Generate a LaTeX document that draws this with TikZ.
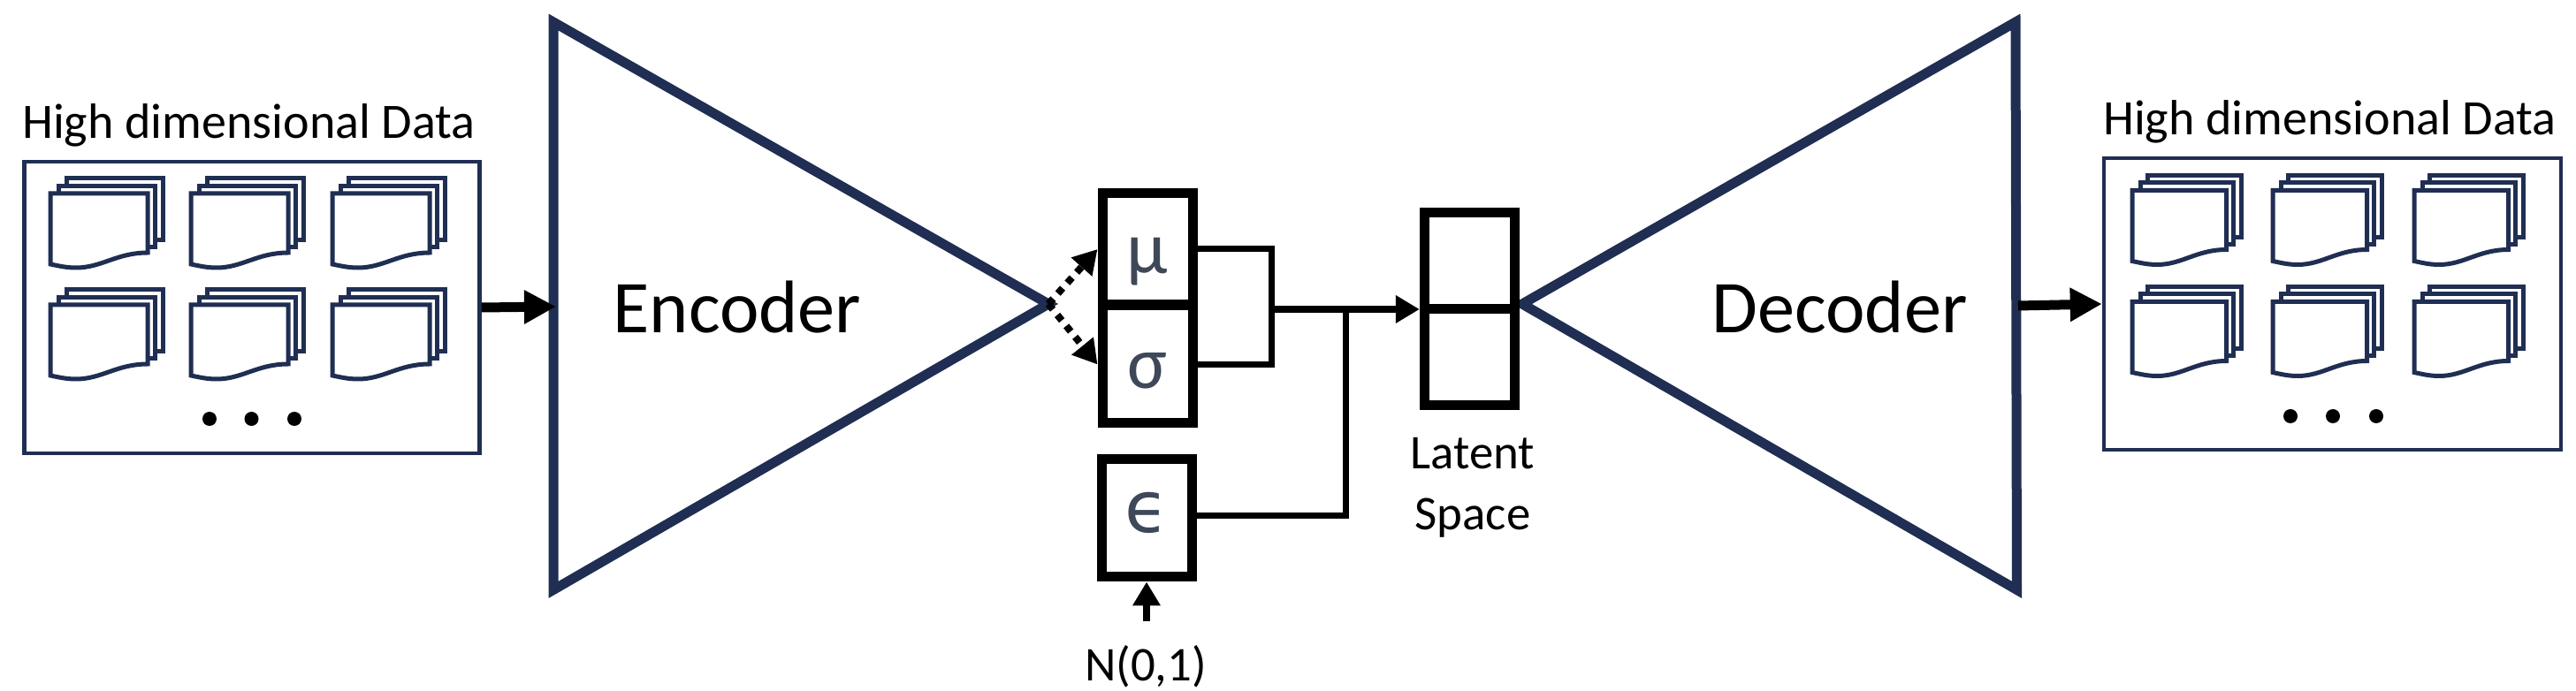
\documentclass[tikz,border=0pt]{standalone}
\usepackage{fontspec}
\setmainfont{Carlito}
\newfontfamily\epsfont{DejaVu Sans}
\usepackage{xcolor}
\usetikzlibrary{
  arrows.meta
}
\definecolor{navy}{HTML}{1F2E52}
\definecolor{greek}{HTML}{3F4858}
\tikzset{
  pics/docstack/.style={code={
    \draw[sheet] (.185,.17) rectangle (1.27,-.53);
    \draw[sheet] (.095,.085) rectangle (1.18,-.61);
    \draw[sheet] (0,0) -- (1.10,0) -- (1.10,-.67)
      .. controls (.75,-.67) and (.58,-.84) .. (.29,-.84)
      .. controls (.18,-.84) and (.1,-.82) .. (0,-.80) -- cycle;
  }}
}

\begin{document}
\begin{tikzpicture}[
  sheet/.style={draw=navy, fill=white, line width=.05cm},
  databox/.style={draw=navy, line width=.045cm, minimum width=5.15cm, minimum height=3.3cm},
  tri/.style={draw=navy, line width=.11cm},
  cell/.style={draw=black, line width=.11cm, minimum width=1.02cm, text=greek,
    font=\fontsize{24}{28}\selectfont, text height=.55cm, text depth=0cm},
  wire/.style={draw=black, line width=.07cm},
  flow/.style={-{Triangle[length=.36cm,width=.36cm]}, draw=black, line width=.11cm},
  feed/.style={-{Triangle[length=.27cm,width=.3cm]}, draw=black, line width=.08cm},
  samp/.style={feed, dash pattern=on .08cm off .08cm},
  lab/.style={anchor=base, font=\fontsize{15.95}{19}\selectfont},
  small/.style={align=center, font=\fontsize{15.6}{19.5}\selectfont},
  big/.style={anchor=base, font=\fontsize{24}{28}\selectfont}
]
  \useasboundingbox (0,0) rectangle (29.14,7.82);

  % data boxes
  \node[databox] (inbox) at (2.85,4.34) {};
  \node[databox, minimum width=5.17cm] (outbox) at (26.385,4.38) {};
  \node[lab] (intext) at (2.815,6.25) {High dimensional Data};
  \node[lab] (outtext) at (26.355,6.29) {High dimensional Data};

  % sheets
  \foreach \col in {0,1.59,3.19}
    \foreach \row in {0,1.26} {
      \pic at ({.57+\col},{5.63-\row}) {docstack};
      \pic[xscale=.97] at ({24.12+\col},{5.665-\row}) {docstack};
    }

  % dots
  \foreach \x [count=\i] in {2.37,2.845,3.33}
    \node[circle, fill=black, inner sep=0, minimum size=.16cm] (indot\i) at (\x,3.08) {};
  \foreach \x [count=\i] in {25.91,26.39,26.88}
    \node[circle, fill=black, inner sep=0, minimum size=.16cm] (outdot\i) at (\x,3.11) {};

  % encoder, decoder
  \coordinate (enctop) at (6.26,7.57);
  \coordinate (encbot) at (6.26,1.145);
  \coordinate (enctip) at (11.86,4.38);
  \coordinate (dectop) at (22.80,7.57);
  \coordinate (decbot) at (22.815,1.145);
  \coordinate (dectip) at (17.22,4.38);
  \draw[tri] (enctop) -- (enctip) -- (encbot) -- cycle;
  \draw[tri] (dectop) -- (dectip) -- (decbot) -- cycle;
  \node[big] (enctext) at (8.34,4.05) {Encoder};
  \node[big] (dectext) at (20.81,4.05) {Decoder};

  % sampling cells
  \node[cell, minimum height=1.26cm] (mu) at (12.98,5.0) {μ};
  \node[cell, minimum height=1.33cm] (sigma) at (12.98,3.695) {σ};
  \node[cell, minimum height=1.33cm, text height=.32cm, font=\fontsize{23}{26}\epsfont\selectfont] (eps) at (12.97,1.955) {ϵ};
  \node[cell, minimum height=2.18cm] (latent) at (16.623,4.32) {};
  \draw[wire, line width=.11cm] (latent.west) -- (latent.east);
  \node[small] (lattext) at (16.66,2.30) {Latent\\Space};
  \node[lab, font=\fontsize{15.6}{19}\selectfont] (ntext) at (12.96,.11) {N(0,1)};

  % connectors
  \coordinate (brk) at (14.385,4.32);
  \coordinate (join) at (15.225,4.32);
  \coordinate (encin) at (6.29,4.35);
  \coordinate (decout) at (22.83,4.36);
  \coordinate (nfoot) at (12.97,.79);
  \draw[flow] (inbox.east) -- (encin);
  \draw[flow] (decout) -- (outbox.west);
  \draw[samp] (enctip) -- (mu.west);
  \draw[samp] (enctip) -- (sigma.west);
  \draw[wire] (mu.east) -| (brk) |- (sigma.east);
  \draw[feed] (brk) -- (latent.west);
  \draw[wire] ([yshift=.027cm]eps.east) -| (join);
  \draw[feed] (nfoot) -- (eps.south);

\end{tikzpicture}
\end{document}
